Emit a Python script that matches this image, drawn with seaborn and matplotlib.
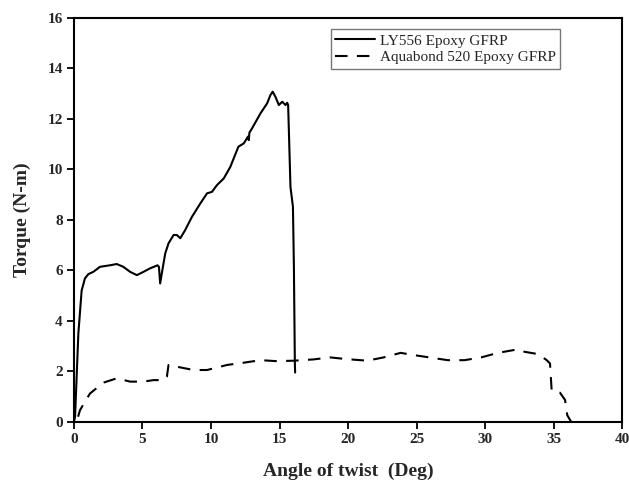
import matplotlib
matplotlib.use("Agg")
import matplotlib.pyplot as plt
import seaborn as sns
import pandas as pd

ly_x = [0.0, 0.08, 0.32, 0.56, 0.8, 1.05, 1.41, 1.9, 2.63, 3.12, 3.6, 4.1, 4.59, 5.07, 5.56, 6.1, 6.2,
        6.29, 6.41, 6.66, 6.9, 7.27, 7.51, 7.76, 8.12, 8.61, 9.22, 9.71, 10.07, 10.44, 10.93, 11.41,
        12.0, 12.39, 12.7, 12.76, 12.8, 13.0, 13.61, 14.1, 14.34, 14.5, 14.7, 14.95, 15.2, 15.44,
        15.56, 15.63, 15.8, 15.98, 16.05, 16.12, 16.14]
ly_y = [0.0, 0.2, 3.5, 5.2, 5.68, 5.85, 5.94, 6.14, 6.2, 6.25, 6.14, 5.94, 5.81, 5.94, 6.08, 6.2, 6.14,
        5.48, 5.88, 6.67, 7.07, 7.4, 7.4, 7.27, 7.6, 8.12, 8.65, 9.05, 9.11, 9.38, 9.64, 10.1,
        10.9, 11.03, 11.3, 11.16, 11.45, 11.63, 12.22, 12.62, 12.95, 13.08, 12.88, 12.55, 12.68, 12.55,
        12.64, 12.55, 9.3, 8.52, 6.14, 2.31, 1.95]

aq_x = [0.3, 0.44, 1.17, 2.15, 3.12, 4.1, 5.07, 5.8, 6.54, 6.78, 6.9, 7.51, 8.73, 9.71, 11.17, 12.39,
        13.61, 14.83, 16.05, 17.48, 18.7, 19.93, 21.4, 22.6, 23.84, 24.82, 26.05, 27.27, 28.5, 29.72,
        30.94, 32.4, 32.9, 33.88, 34.5, 34.74, 34.86, 35.1, 35.47, 35.84, 36.0, 36.28]
aq_y = [0.2, 0.46, 1.12, 1.55, 1.72, 1.59, 1.59, 1.65, 1.65, 1.78, 2.25, 2.18, 2.05, 2.05, 2.25, 2.34,
        2.44, 2.4, 2.42, 2.47, 2.55, 2.48, 2.42, 2.55, 2.73, 2.64, 2.54, 2.44, 2.44, 2.55,
        2.73, 2.87, 2.77, 2.68, 2.44, 2.31, 1.25, 1.15, 1.15, 0.86, 0.26, 0.0]

series_names = ["LY556 Epoxy GFRP", "Aquabond 520 Epoxy GFRP"]
x_ticks = [0, 5, 10, 15, 20, 25, 30, 35, 40]
y_ticks = [0, 2, 4, 6, 8, 10, 12, 14, 16]

df = pd.concat([
    pd.DataFrame({"x": ly_x, "y": ly_y, "s": series_names[0]}),
    pd.DataFrame({"x": aq_x, "y": aq_y, "s": series_names[1]}),
])

sns.set_style("ticks")
plt.rcParams['font.family'] = ['Liberation Serif', 'DejaVu Serif']

fig = plt.figure(figsize=(6.29, 4.82), dpi=100)
ax = fig.add_axes([0.1176, 0.125, 0.8714, 0.8377])

sns.lineplot(data=df, x="x", y="y", style="s", estimator=None, sort=False,
             color="black", linewidth=1.5,
             dashes={series_names[0]: "", series_names[1]: (6, 4.5)}, ax=ax)

ax.set_xlim(0, 40)
ax.set_ylim(0, 16)
ax.set_xticks(x_ticks)
ax.set_yticks(y_ticks)
ax.set_xticklabels([str(t) for t in x_ticks], fontweight="bold", fontsize=11)
ax.set_yticklabels([str(t) for t in y_ticks], fontweight="bold", fontsize=11)
ax.tick_params(direction="out", length=5, width=1.3, color="black", pad=3)
for sp in ax.spines.values():
    sp.set_visible(True)
    sp.set_linewidth(1.5)
    sp.set_color("black")

ax.set_xlabel("Angle of twist  (Deg)", fontweight="bold", fontsize=14, labelpad=12)
ax.set_ylabel("Torque (N-m)", fontweight="bold", fontsize=14, labelpad=12)

leg = ax.legend(loc="upper right", bbox_to_anchor=(0.887, 0.972), fontsize=11, frameon=True,
                fancybox=False, edgecolor="#555555", handlelength=2.6, handletextpad=0.3,
                borderpad=0.3, labelspacing=0.2, borderaxespad=0, title=None)
leg.get_frame().set_linewidth(1.0)

fig.savefig("out.png", dpi=100)
